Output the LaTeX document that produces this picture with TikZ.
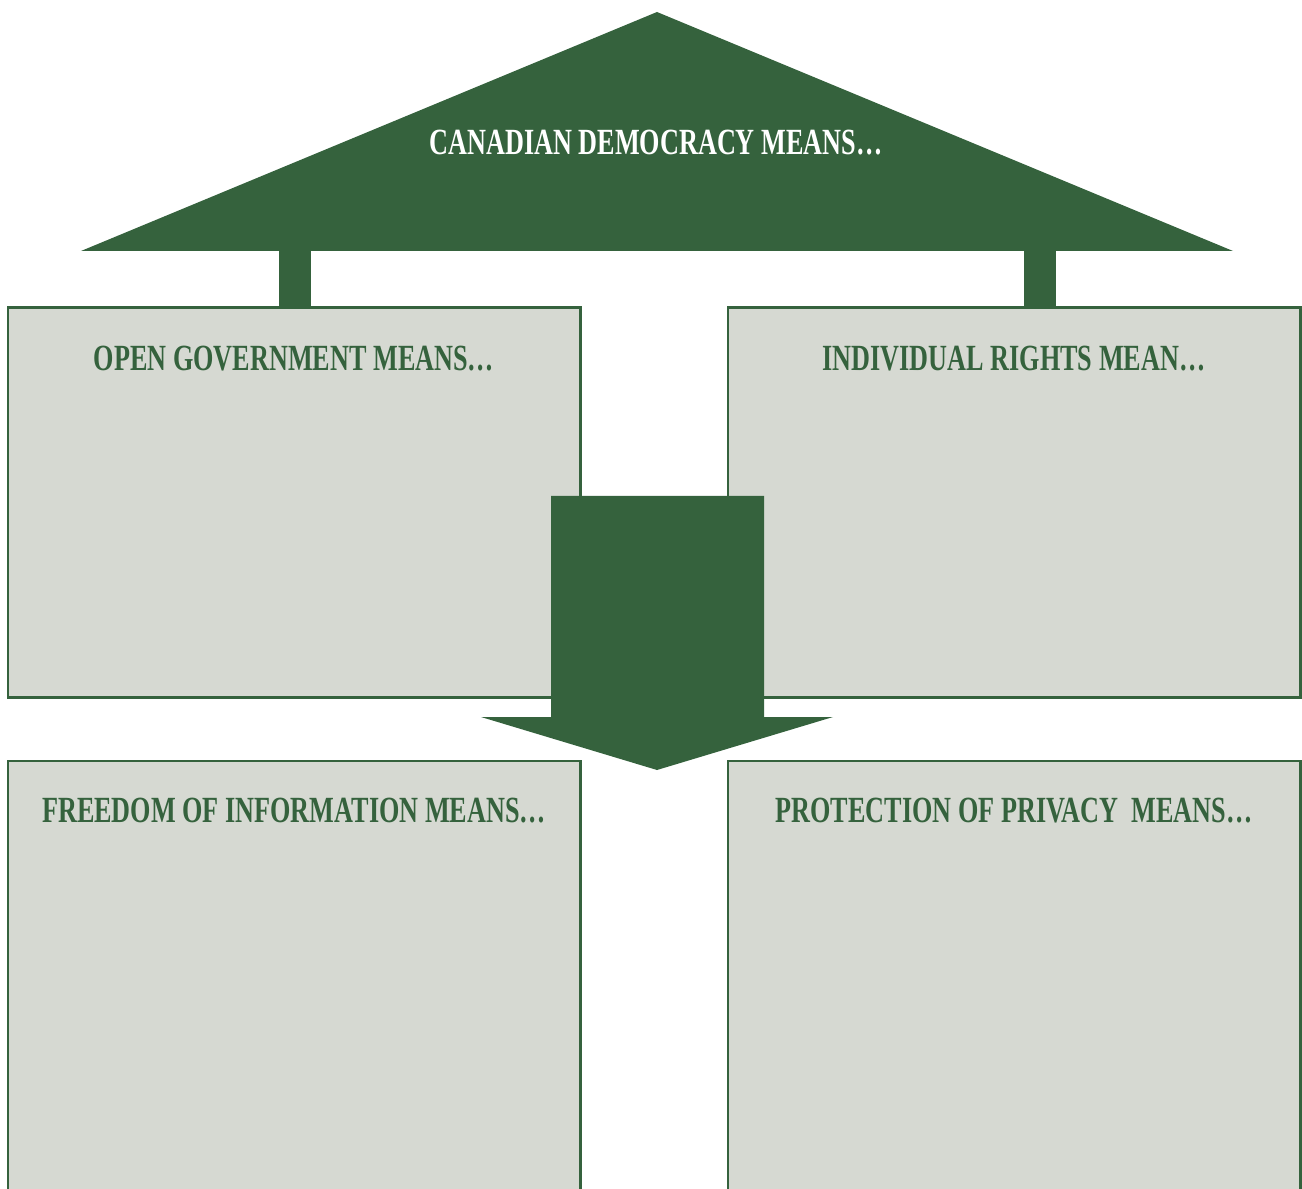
\documentclass[tikz,border=0pt]{standalone}
\usepackage{fontspec}
\newfontfamily\capsfont[FakeStretch=0.71]{Liberation Serif}
\definecolor{roofgreen}{HTML}{35623D}
\definecolor{panelgray}{HTML}{D6D9D2}
\tikzset{
  panel/.style={draw=roofgreen,line width=1.2pt,fill=panelgray,
    minimum width=11.46cm,minimum height=7.8cm,inner sep=0pt},
  heading/.style={text=roofgreen,anchor=base,
    font=\capsfont\bfseries\fontsize{21}{24}\selectfont},
  pillar/.style={draw=roofgreen,line width=0.64cm}
}
\begin{document}
\begin{tikzpicture}[x=0.02cm,y=-0.02cm]
\clip (0,0) rectangle (1302,1189);
% roof
\fill[roofgreen] (81,251)--(657,12)--(1233,251)--cycle;
\node[heading,text=white] (roof) at (656,155) {CANADIAN DEMOCRACY MEANS…};
\coordinate (lbeam) at (295,250);
\coordinate (rbeam) at (1040,250);
% the four panels
\node[panel] (opengov) at (294,502.5) {};
\node[panel] (rights) at (1014,502.5) {};
\node[panel,minimum height=10cm] (foi) at (294,1011) {};
\node[panel,minimum height=10cm] (privacy) at (1014,1011) {};
\draw[pillar] (lbeam) -- (lbeam |- opengov.north);
\draw[pillar] (rbeam) -- (rbeam |- rights.north);
\node[heading] (opengovtitle) at ([yshift=-1.28cm]opengov.north) {OPEN GOVERNMENT MEANS…};
\node[heading] (rightstitle) at ([yshift=-1.28cm]rights.north) {INDIVIDUAL RIGHTS MEAN…};
\node[heading] (foititle) at ([yshift=-1.26cm]foi.north) {FREEDOM OF INFORMATION MEANS…};
\node[heading] (privacytitle) at ([yshift=-1.26cm]privacy.north) {PROTECTION OF PRIVACY~~MEANS…};
% big arrow down the middle
\fill[roofgreen] (551,496)--(764,496)--(764,717)--(833,717)--(657,770)
  --(481,717)--(551,717)--cycle;
\end{tikzpicture}
\end{document}
